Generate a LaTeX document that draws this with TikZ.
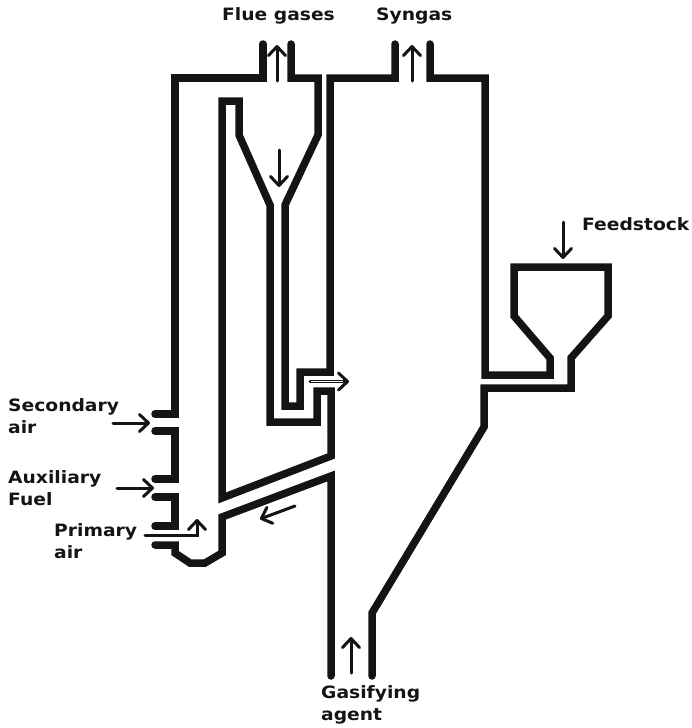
\documentclass[tikz,border=0pt]{standalone}
\usepackage{fontspec}
\setmainfont[FakeStretch=1.1]{DejaVu Sans}
\usetikzlibrary{arrows.meta}
\definecolor{ink}{HTML}{141414}
\tikzset{
  wall/.style={draw=ink,line width=7.5pt,line join=miter,miter limit=10},
  rwall/.style={wall,line cap=round},
  flow/.style={draw=ink,line width=3pt,line cap=round,-{Straight Barb[length=9pt,width=17pt,line width=3pt,round]}},
  lab/.style={text=ink,font=\bfseries\fontsize{17}{22}\selectfont,inner sep=0pt,align=left,anchor=west}
}
\begin{document}
\begin{tikzpicture}[x=1pt,y=-1pt]
\useasboundingbox (0,0) rectangle (691,728);
% outer left wall, cyclone
\draw[rwall] (155,414) -- (175,414) -- (175,78) -- (263,78) -- (263,44);
\draw[rwall] (291,44) -- (291,78) -- (318,78) -- (318,135) -- (285,205) -- (285,406) -- (300,406) -- (300,372) -- (330,372) -- (330,78) -- (395,78) -- (395,44);
\draw[wall] (222,498) -- (222,101) -- (239,101) -- (239,135) -- (270,205) -- (270,422) -- (317,422) -- (317,391) -- (331,391) -- (331,456) -- cycle;
% lower left ports
\draw[rwall] (155,431) -- (175,431) -- (175,479) -- (155,479);
\draw[rwall] (155,497) -- (175,497) -- (175,526) -- (155,526);
\draw[rwall] (155,545) -- (175,545) -- (175,553) -- (190,563) -- (205,563) -- (222,553) -- (222,517) -- (331,476) -- (331,676);
% gasifier right wall and hopper
\draw[rwall] (430,44) -- (430,78) -- (485,78) -- (485,375) -- (550,375) -- (550,358) -- (514,316) -- (514,267) -- (608,267) -- (608,316) -- (571,358) -- (571,388) -- (484,388) -- (484,427) -- (372,613) -- (372,676);
% flow arrows
\draw[flow] (277,81) -- (277,45);
\draw[flow] (412,81) -- (412,45);
\draw[flow] (279,150) -- (279,187);
\draw[flow] (563,222) -- (563,259);
\draw[flow] (351,673) -- (351,637);
\draw[flow] (113,423) -- (150,423);
\draw[flow] (117,488) -- (154,488);
\draw[flow] (295,506) -- (260,519);
\draw[flow] (145,535) -- (197,535) -- (197,519);
\draw[flow] (310,381.5) -- (349,381.5);
\draw[white,line width=1pt] (311,381.5) -- (343,381.5);
% labels
\node[lab] (flue) at (222,16) {Flue gases};
\node[lab] (syn) at (376,16) {Syngas};
\node[lab] (feed) at (582,224) {Feedstock};
\node[lab] (sec) at (8,416) {Secondary\\air};
\node[lab] (aux) at (8,488) {Auxiliary\\Fuel};
\node[lab] (pri) at (54,541) {Primary\\air};
\node[lab] (gas) at (321,705) {Gasifying\\agent};
\end{tikzpicture}
\end{document}
